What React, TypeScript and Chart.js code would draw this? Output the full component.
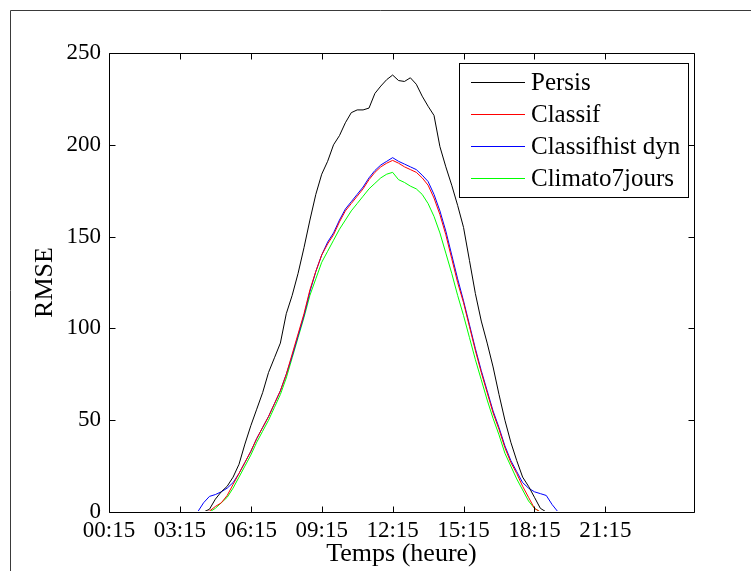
import React, { useEffect, useRef } from 'react';
import { Chart, registerables } from 'chart.js';

Chart.register(...registerables);

// ---- data (one value per 15 min, 00:15 .. 24:00) ----
const persis = [
  0, 0, 0, 0, 0, 0, 0, 0, 0, 0, 0, 0, 0, 0, 0, 0, 0,
  1.5, 7, 11, 14, 19, 26, 37, 47, 56, 65, 76, 84, 92, 108, 118, 130, 144, 159, 173, 184,
  191, 200, 205, 212, 217.5, 219, 219, 220, 228, 232, 235.5, 238, 235, 234.5, 236.5, 233,
  226.5, 221, 216, 199, 188, 178, 167, 155, 137, 119, 104, 92, 79, 64, 50, 38, 28, 19, 14, 8, 2,
  0, 0, 0, 0, 0, 0, 0, 0, 0, 0, 0, 0, 0, 0, 0, 0, 0, 0, 0, 0, 0, 0,
];
const classif = [
  0, 0, 0, 0, 0, 0, 0, 0, 0, 0, 0, 0, 0, 0, 0, 0, 0,
  0.5, 3, 5, 9, 15, 21, 27, 33, 40, 46, 52, 59, 66, 75, 86, 97, 108, 121, 131, 140, 146, 151,
  158, 164, 168, 172, 176, 181, 185, 188, 190, 191.5, 190, 188, 186.5, 185, 182, 178, 171, 162,
  151, 138, 125, 114, 101, 88, 76, 65, 54, 45, 35, 27, 21, 14, 8, 2,
  0, 0, 0, 0, 0, 0, 0, 0, 0, 0, 0, 0, 0, 0, 0, 0, 0, 0, 0, 0, 0, 0, 0,
];
const classifHistDyn = [
  0, 0, 0, 0, 0, 0, 0, 0, 0, 0, 0, 0, 0, 0, 0, 0,
  5, 8.5, 9.5, 11, 13, 16, 21, 27, 33, 40, 46, 52, 59, 66, 75, 85, 96, 107, 120, 131, 140, 147,
  152, 159, 165, 169, 173, 177, 182, 186, 189, 191, 193, 191, 189.5, 188, 186.5, 183.5, 180, 173,
  164, 153, 140, 127, 115, 102, 89, 77, 66, 55, 46, 36, 28, 22, 16, 13, 11, 10, 9, 4,
  0, 0, 0, 0, 0, 0, 0, 0, 0, 0, 0, 0, 0, 0, 0, 0, 0, 0, 0, 0,
];
const climato7jours = [
  0, 0, 0, 0, 0, 0, 0, 0, 0, 0, 0, 0, 0, 0, 0, 0, 0, 0,
  2, 5, 8, 13, 19, 25, 31, 38, 44, 50, 57, 64, 73, 84, 95, 106, 118, 127, 136, 142, 148, 154,
  159, 164, 168, 172, 176, 179, 182, 184, 185, 181, 179.5, 177.5, 176, 173, 168, 161, 152, 141,
  130, 118, 107, 95, 83, 72, 61, 51, 42, 32, 25, 18, 12, 6, 2,
  0, 0, 0, 0, 0, 0, 0, 0, 0, 0, 0, 0, 0, 0, 0, 0, 0, 0, 0, 0, 0, 0, 0,
];

const seriesNames = ['Persis', 'Classif', 'Classifhist dyn', 'Climato7jours'];
const seriesColors = ['#000000', '#ff0000', '#0000ff', '#00ff00'];

// x ticks: sample number -> time label
const tickPositions = [1, 13, 25, 37, 49, 61, 73, 85];
const tickLabels = ['00:15', '03:15', '06:15', '09:15', '12:15', '15:15', '18:15', '21:15'];
const yTicks = [0, 50, 100, 150, 200, 250];

const FONT = '"Liberation Serif", "Times New Roman", Times, serif';

const framePlugin = {
  id: 'matlabFrame',
  beforeDraw(chart: any) {
    const { ctx, width, height } = chart;
    ctx.save();
    ctx.fillStyle = '#ffffff';
    ctx.fillRect(0, 0, width, height);
    ctx.strokeStyle = '#3a3a3a';
    ctx.lineWidth = 1;
    ctx.beginPath();
    ctx.moveTo(10.5, height);
    ctx.lineTo(10.5, 10.5);
    ctx.lineTo(width, 10.5);
    ctx.stroke();
    ctx.restore();
  },
  beforeDatasetsDraw(chart: any) {
    const { ctx, chartArea } = chart;
    ctx.save();
    ctx.beginPath();
    const top = Math.round(chartArea.top);
    const left = Math.round(chartArea.left) + 1;
    ctx.rect(left, top, Math.round(chartArea.right) - left, Math.round(chartArea.bottom) - 1 - top);
    ctx.clip();
  },
  afterDatasetsDraw(chart: any) {
    const { ctx, chartArea } = chart;
    ctx.restore();
    const xs = chart.scales.x;
    const ys = chart.scales.y;
    const l = Math.round(chartArea.left) + 0.5;
    const r = Math.round(chartArea.right) + 0.5;
    const t = Math.round(chartArea.top) + 0.5;
    const b = Math.round(chartArea.bottom) + 0.5;
    const tl = 6;
    ctx.save();
    ctx.strokeStyle = '#000000';
    ctx.lineWidth = 1;
    ctx.beginPath();
    ctx.rect(l, t, r - l, b - t);
    for (const tk of xs.ticks) {
      const px = Math.round(xs.getPixelForValue(tk.value)) + 0.5;
      ctx.moveTo(px, b);
      ctx.lineTo(px, b - tl);
      ctx.moveTo(px, t);
      ctx.lineTo(px, t + tl);
    }
    for (const tk of ys.ticks) {
      const py = Math.round(ys.getPixelForValue(tk.value)) + 0.5;
      ctx.moveTo(l, py);
      ctx.lineTo(l + tl, py);
      ctx.moveTo(r, py);
      ctx.lineTo(r - tl, py);
    }
    ctx.stroke();
    ctx.restore();
  },
  afterDraw(chart: any) {
    const { ctx } = chart;
    const bx = 459.5, by = 63.5, bw = 229, bh = 134;
    ctx.save();
    ctx.fillStyle = '#ffffff';
    ctx.fillRect(bx, by, bw, bh);
    ctx.strokeStyle = '#000000';
    ctx.lineWidth = 1;
    ctx.strokeRect(bx, by, bw, bh);
    ctx.font = `25px ${FONT}`;
    ctx.textBaseline = 'middle';
    ctx.textAlign = 'left';
    chart.data.datasets.forEach((ds: any, i: number) => {
      const yy = Math.round(81.5 + i * 32.2) + 0.5;
      ctx.strokeStyle = ds.borderColor;
      ctx.beginPath();
      ctx.moveTo(471, yy);
      ctx.lineTo(525, yy);
      ctx.stroke();
      ctx.fillStyle = '#000000';
      ctx.fillText(ds.label, 531, yy + 1);
    });
    ctx.restore();
  },
};

export default function App() {
  const ref = useRef<HTMLCanvasElement | null>(null);

  useEffect(() => {
    document.body.style.margin = '0';
    const canvas = ref.current;
    if (!canvas) return;
    const all = [persis, classif, classifHistDyn, climato7jours];
    const chart = new Chart(canvas, {
      type: 'line',
      data: {
        datasets: all.map((arr, i) => ({
          label: seriesNames[i],
          data: arr.map((v, k) => ({ x: k + 1, y: v })),
          borderColor: seriesColors[i],
          backgroundColor: seriesColors[i],
          borderWidth: 1,
          pointRadius: 0,
          tension: 0,
          fill: false,
        })),
      },
      options: {
        responsive: false,
        animation: false,
        events: [],
        layout: { padding: { left: 0, top: 53, right: 57, bottom: 0 } },
        plugins: { legend: { display: false }, tooltip: { enabled: false } },
        scales: {
          x: {
            type: 'linear',
            min: 1,
            max: 100,
            grid: { display: false, drawTicks: false },
            border: { display: false },
            afterBuildTicks: (s: any) => {
              s.ticks = tickPositions.map((v) => ({ value: v }));
            },
            afterFit: (s: any) => {
              s.height = 59;
            },
            ticks: {
              autoSkip: false,
              maxRotation: 0,
              padding: 5,
              color: '#000000',
              font: { family: FONT, size: 23 },
              callback: (v: any) => {
                const k = tickPositions.indexOf(Number(v));
                return k >= 0 ? tickLabels[k] : '';
              },
            },
            title: {
              display: true,
              text: 'Temps (heure)',
              color: '#000000',
              font: { family: FONT, size: 26 },
              padding: { top: 0, bottom: 1 },
            },
          },
          y: {
            type: 'linear',
            min: 0,
            max: 250,
            grid: { display: false, drawTicks: false },
            border: { display: false },
            afterBuildTicks: (s: any) => {
              s.ticks = yTicks.map((v) => ({ value: v }));
            },
            afterFit: (s: any) => {
              s.width = 109;
            },
            ticks: {
              padding: 8,
              color: '#000000',
              font: { family: FONT, size: 23 },
            },
            title: {
              display: true,
              text: 'RMSE',
              color: '#000000',
              font: { family: FONT, size: 26 },
              padding: { top: 30, bottom: 0 },
            },
          },
        },
      },
      plugins: [framePlugin],
    } as any);
    return () => chart.destroy();
  }, []);

  return <canvas ref={ref} width={751} height={571} style={{ display: 'block' }} />;
}
